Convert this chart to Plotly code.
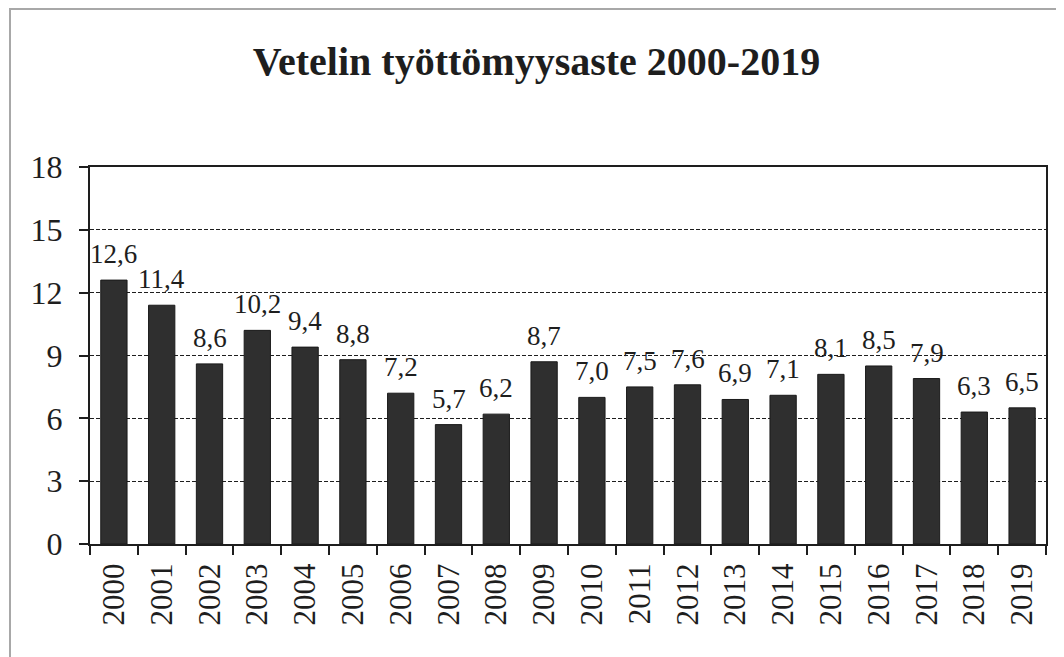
import plotly.graph_objects as go

years = [str(y) for y in range(2000, 2020)]
rates = [12.6, 11.4, 8.6, 10.2, 9.4, 8.8, 7.2, 5.7, 6.2, 8.7,
         7.0, 7.5, 7.6, 6.9, 7.1, 8.1, 8.5, 7.9, 6.3, 6.5]
y_ticks = [0, 3, 6, 9, 12, 15, 18]
title_text = "Vetelin työttömyysaste 2000-2019"

FONT = "Liberation Serif, Times New Roman, serif"
INK = "#1e1e1e"

# page body adds ~7px offset; figure sized to compensate
W, H = 1057, 650
L, T, R, B = 82, 159, 19, 114
PW, PH = W - L - R, H - T - B

fig = go.Figure()
fig.add_trace(go.Bar(
    x=years, y=rates,
    marker=dict(color="#2f2f2f", line=dict(color="#1a1a1a", width=1)),
    hoverinfo="x+y",
))

# category axis: annotation x is the category index
for i, v in enumerate(rates):
    fig.add_annotation(
        x=i, y=v, text=f"{v:.1f}".replace(".", ","),
        showarrow=False, yanchor="bottom", yshift=9,
        font=dict(family=FONT, size=27, color=INK),
    )

fig.update_layout(
    width=W, height=H,
    margin=dict(l=L, r=R, t=T, b=B),
    paper_bgcolor="white", plot_bgcolor="white",
    bargap=0.45,
    showlegend=False,
    title=dict(text=f"<b>{title_text}</b>", x=0.5, xref="container",
               y=1 - 53 / H, yref="container", yanchor="middle", xanchor="center",
               font=dict(family=FONT, size=40, color=INK)),
    font=dict(family=FONT, color=INK),
    xaxis=dict(
        type="category", range=[-0.5, len(years) - 0.5], autorange=False,
        tickson="boundaries", ticks="outside", ticklen=9,
        tickcolor=INK, tickwidth=1.5, tickangle=-90,
        tickfont=dict(family=FONT, size=31, color=INK),
        ticklabelstandoff=5,
        showline=True, linecolor=INK, linewidth=2, mirror=True,
        showgrid=False, automargin=False,
    ),
    yaxis=dict(
        range=[0, 18], tickvals=y_ticks, ticks="outside", ticklen=9,
        tickcolor=INK, tickwidth=1.5,
        tickfont=dict(family=FONT, size=32, color=INK),
        ticklabelstandoff=10,
        showline=True, linecolor=INK, linewidth=2, mirror=True,
        showgrid=True, gridcolor=INK, gridwidth=1.2, griddash="4px,2px",
        zeroline=False, automargin=False,
    ),
    shapes=[dict(type="rect", xref="paper", yref="paper",
                 x0=(2 - L) / PW, x1=(W + 20 - L) / PW,
                 y0=-(B + 20) / PH, y1=(PH + T - 1) / PH,
                 line=dict(color="#a8a8a8", width=2), layer="below")],
)

fig.write_html("out.html")
